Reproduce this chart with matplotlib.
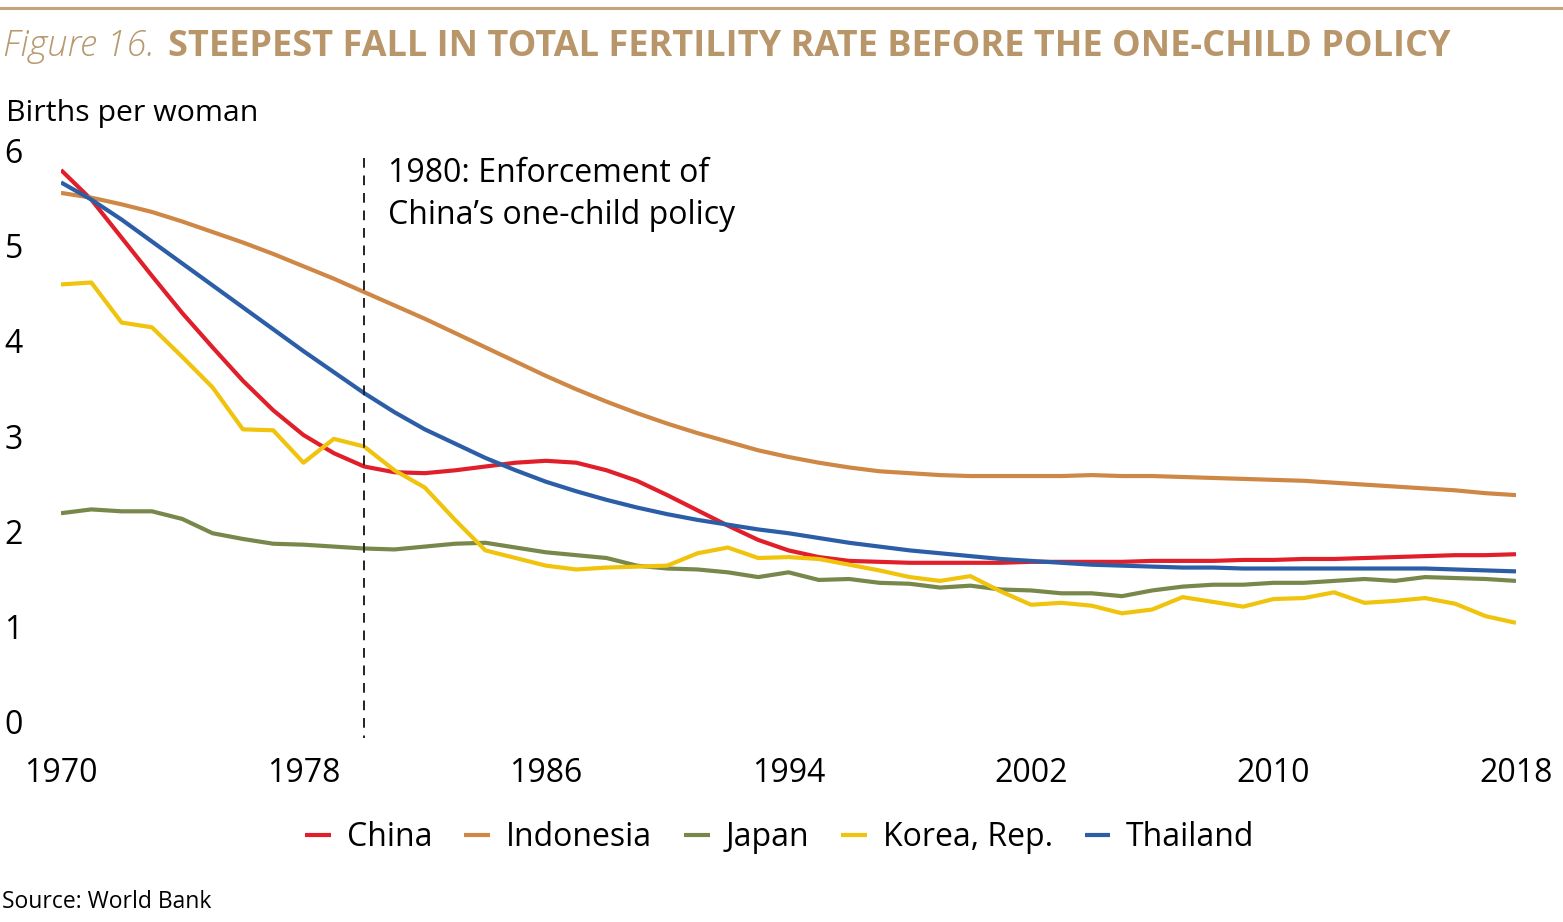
import matplotlib
matplotlib.use("Agg")
import matplotlib.pyplot as plt
from matplotlib.lines import Line2D

# ---------------- data ----------------
years = list(range(1970, 2019))
china = [5.79, 5.48, 5.08, 4.68, 4.29, 3.93, 3.58, 3.27, 3.01, 2.82,
         2.68, 2.62, 2.61, 2.64, 2.68, 2.72, 2.74, 2.72, 2.64, 2.53,
         2.38, 2.22, 2.06, 1.91, 1.80, 1.73, 1.69, 1.68, 1.67, 1.67,
         1.67, 1.67, 1.68, 1.68, 1.68, 1.68, 1.69, 1.69, 1.69, 1.70,
         1.70, 1.71, 1.71, 1.72, 1.73, 1.74, 1.75, 1.75, 1.76]
indonesia = [5.55, 5.50, 5.43, 5.35, 5.25, 5.14, 5.03, 4.91, 4.78, 4.65,
             4.51, 4.37, 4.23, 4.08, 3.93, 3.78, 3.63, 3.49, 3.36, 3.24,
             3.13, 3.03, 2.94, 2.85, 2.78, 2.72, 2.67, 2.63, 2.61, 2.59,
             2.58, 2.58, 2.58, 2.58, 2.59, 2.58, 2.58, 2.57, 2.56, 2.55,
             2.54, 2.53, 2.51, 2.49, 2.47, 2.45, 2.43, 2.40, 2.38]
japan = [2.19, 2.23, 2.21, 2.21, 2.13, 1.98, 1.92, 1.87, 1.86, 1.84,
         1.82, 1.81, 1.84, 1.87, 1.88, 1.83, 1.78, 1.75, 1.72, 1.64,
         1.61, 1.60, 1.57, 1.52, 1.57, 1.49, 1.50, 1.46, 1.45, 1.41,
         1.43, 1.39, 1.38, 1.35, 1.35, 1.32, 1.38, 1.42, 1.44, 1.44,
         1.46, 1.46, 1.48, 1.50, 1.48, 1.52, 1.51, 1.50, 1.48]
korea = [4.59, 4.61, 4.19, 4.14, 3.83, 3.51, 3.07, 3.06, 2.72, 2.97,
         2.89, 2.64, 2.46, 2.12, 1.80, 1.72, 1.64, 1.60, 1.62, 1.63,
         1.64, 1.77, 1.83, 1.72, 1.73, 1.71, 1.65, 1.59, 1.52, 1.48,
         1.53, 1.37, 1.23, 1.25, 1.22, 1.14, 1.18, 1.31, 1.26, 1.21,
         1.29, 1.30, 1.36, 1.25, 1.27, 1.30, 1.24, 1.11, 1.04]
thailand = [5.66, 5.48, 5.27, 5.04, 4.81, 4.58, 4.35, 4.12, 3.89, 3.67,
            3.45, 3.25, 3.07, 2.92, 2.77, 2.64, 2.52, 2.42, 2.33, 2.25,
            2.18, 2.12, 2.07, 2.02, 1.98, 1.93, 1.88, 1.84, 1.80, 1.77,
            1.74, 1.71, 1.69, 1.67, 1.65, 1.64, 1.63, 1.62, 1.62, 1.61,
            1.61, 1.61, 1.61, 1.61, 1.61, 1.61, 1.60, 1.59, 1.58]

series_names = ["China", "Indonesia", "Japan", "Korea, Rep.", "Thailand"]
series_values = [china, indonesia, japan, korea, thailand]
series_colors = ["#E01F2B", "#CF8746", "#77884A", "#F0C30C", "#2C5EA8"]

x_ticks = [1970, 1978, 1986, 1994, 2002, 2010, 2018]
y_ticks = [0, 1, 2, 3, 4, 5, 6]

title_prefix = "Figure 16."
title_main = "STEEPEST FALL IN TOTAL FERTILITY RATE BEFORE THE ONE-CHILD POLICY"
y_label = "Births per woman"
annotation = "1980: Enforcement of\nChina\u2019s one-child policy"
source = "Source: World Bank"
policy_year = 1980

# ---------------- layout ----------------
W, H = 1563, 922
FONT = "Open Sans"
plt.rcParams["font.family"] = [FONT, "DejaVu Sans"]

fig = plt.figure(figsize=(W / 100, H / 100), dpi=100)
fig.patch.set_facecolor("white")


def fx(px):
    return px / W


def fy(py):
    return 1 - py / H


ax = fig.add_axes([fx(61), fy(722), fx(1516) - fx(61), (722 - 150) / H])
ax.set_xlim(1970, 2018)
ax.set_ylim(0, 6)
for s in ax.spines.values():
    s.set_visible(False)

for name, vals, col in zip(series_names, series_values, series_colors):
    ax.plot(years, vals, color=col, lw=3.0, label=name, solid_capstyle="butt",
            solid_joinstyle="round")

# dashed policy line (extends slightly below the axis)
ax.plot([policy_year, policy_year], [5.92, -0.17], color="#222222", lw=1.4,
        dashes=(5, 4), clip_on=False)

ax.set_xticks(x_ticks)
ax.set_xticklabels([str(v) for v in x_ticks])
ax.set_yticks(y_ticks)
ax.set_yticklabels([str(v) for v in y_ticks])
ax.tick_params(axis="both", length=0, labelsize=23, labelcolor="black")
ax.tick_params(axis="x", pad=25)
for lab in ax.get_yticklabels():
    lab.set_horizontalalignment("center")
ax.tick_params(axis="y", pad=34)

# annotation
ax.text(fx(388), fy(224), annotation, transform=fig.transFigure, fontsize=23,
        ha="left", va="baseline", linespacing=1.35, color="black")

# top rule
fig.add_artist(Line2D([0, 1], [fy(8), fy(8)], transform=fig.transFigure,
                      color="#C3A57C", lw=2.2))

t1 = fig.text(fx(3), fy(56), title_prefix, fontsize=24, style="italic",
              fontweight="light", color="#B79A70", ha="left", va="baseline")
t2 = fig.text(fx(168), fy(56), title_main, fontsize=24, fontweight="bold",
              color="#B8966A", ha="left", va="baseline")
t3 = fig.text(fx(6), fy(121), y_label, fontsize=22, color="black",
              ha="left", va="baseline")
t4 = fig.text(fx(2), fy(908), source, fontsize=16, color="black",
              ha="left", va="baseline")

leg = fig.legend(*ax.get_legend_handles_labels(), loc="center",
                 bbox_to_anchor=(fx(780), fy(838)), ncol=5, frameon=False,
                 fontsize=23, handlelength=0.8, handletextpad=0.5,
                 columnspacing=1.0)
for h in leg.get_lines():
    h.set_linewidth(3.0)

# fit text widths to reference
fig.canvas.draw()
r = fig.canvas.get_renderer()


def fit(t, target):
    w = t.get_window_extent(r).width
    t.set_fontsize(t.get_fontsize() * target / w)


fit(t1, 152)
fit(t2, 1284)
fit(t3, 252)
fit(t4, 209)

fig.savefig("out.png", dpi=100, facecolor="white")
